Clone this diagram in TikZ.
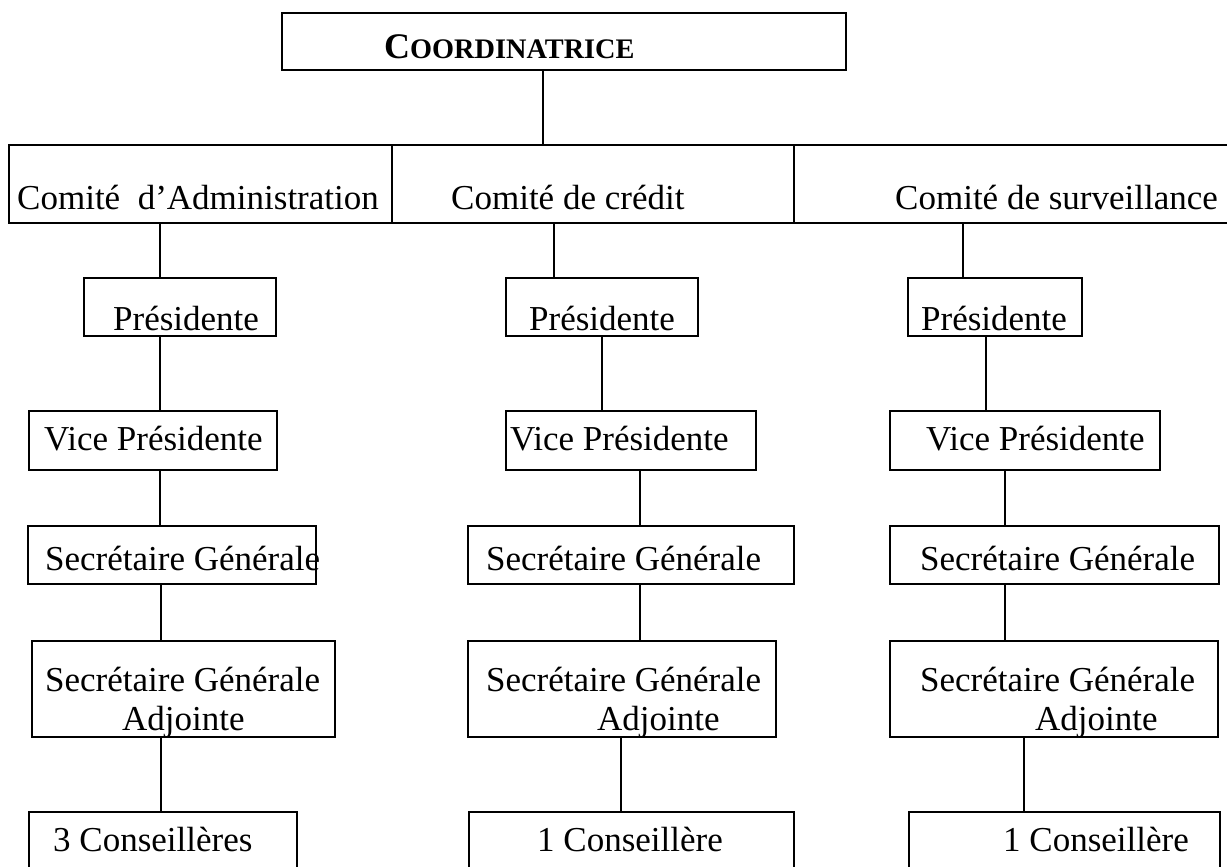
\documentclass[tikz,border=0pt]{standalone}
\usepackage{fontspec}
\setmainfont{Liberation Serif}
\begin{document}
\begin{tikzpicture}[x=1bp,y=-1bp,
  box/.style={draw, line width=1.7bp, rectangle, inner sep=0pt, anchor=north west},
  lbl/.style={inner sep=0pt, anchor=base west, font=\fontsize{35bp}{39bp}\selectfont},
  link/.style={draw, line width=1.5bp}]
\useasboundingbox[fill=white] (0,0) rectangle (1227,867);

% --- boxes: corner at (left, top), sized in pixels
\newcommand{\orgbox}[5]{\node[box, minimum width=#4bp, minimum height=#5bp] (#1) at (#2,#3) {};}
\orgbox{top}{281}{12}{564}{57}
\orgbox{adm}{8}{144}{383}{78}
\orgbox{cred}{391}{144}{402}{78}
\orgbox{surv}{793}{144}{440}{78}

\orgbox{pA}{83}{277}{192}{58}
\orgbox{pB}{505}{277}{192}{58}
\orgbox{pC}{907}{277}{174}{58}

\orgbox{vA}{28}{410}{248}{59}
\orgbox{vB}{505}{410}{250}{59}
\orgbox{vC}{889}{410}{270}{59}

\orgbox{sA}{27}{525}{288}{58}
\orgbox{sB}{467}{525}{326}{58}
\orgbox{sC}{889}{525}{329}{58}

\orgbox{aA}{31}{640}{303}{96}
\orgbox{aB}{467}{640}{308}{96}
\orgbox{aC}{889}{640}{328}{96}

\orgbox{cA}{28}{811}{268}{56}
\orgbox{cB}{468}{811}{325}{56}
\orgbox{cC}{908}{811}{311}{56}

% --- texts
\node[lbl] (tTop) at (384,58) {\bfseries{\fontsize{36bp}{40bp}\selectfont C}{\fontsize{28.3bp}{32bp}\selectfont OORDINATRICE}};
\node[lbl] (tAdm) at (17,209) {Comité~~d’Administration};
\node[lbl] (tCred) at (451,209) {Comité de crédit};
\node[lbl] (tSurv) at (895,209) {Comité de surveillance};

\node[lbl] (tpA) at (113,330) {Présidente};
\node[lbl] (tpB) at (529,330) {Présidente};
\node[lbl] (tpC) at (921,330) {Présidente};

\node[lbl] (tvA) at (44,450) {Vice Présidente};
\node[lbl] (tvB) at (510,450) {Vice Présidente};
\node[lbl] (tvC) at (926,450) {Vice Présidente};

\node[lbl] (tsA) at (45,570) {Secrétaire Générale};
\node[lbl] (tsB) at (486,570) {Secrétaire Générale};
\node[lbl] (tsC) at (920,570) {Secrétaire Générale};

\node[lbl] (taA) at (45,691) {Secrétaire Générale};
\node[lbl] (taA2) at (122,730) {Adjointe};
\node[lbl] (taB) at (486,691) {Secrétaire Générale};
\node[lbl] (taB2) at (597,730) {Adjointe};
\node[lbl] (taC) at (920,691) {Secrétaire Générale};
\node[lbl] (taC2) at (1035,730) {Adjointe};

\node[lbl] (tcA) at (53,851) {3 Conseillères};
\node[lbl] (tcB) at (537,851) {1 Conseillère};
\node[lbl] (tcC) at (1003,851) {1 Conseillère};

% --- x positions of the vertical connectors
\coordinate (xTop) at (543,0);
\coordinate (xA1) at (160,0);
\coordinate (xA2) at (161,0);
\coordinate (xB1) at (554,0);
\coordinate (xB2) at (602,0);
\coordinate (xB3) at (640,0);
\coordinate (xB4) at (621,0);
\coordinate (xC1) at (963,0);
\coordinate (xC2) at (986,0);
\coordinate (xC3) at (1005,0);
\coordinate (xC4) at (1024,0);

% --- connectors
\draw[link] (top.south -| xTop) -- (cred.north -| xTop);

\draw[link] (adm.south -| xA1) -- (pA.north -| xA1);
\draw[link] (pA.south -| xA1) -- (vA.north -| xA1);
\draw[link] (vA.south -| xA1) -- (sA.north -| xA1);
\draw[link] (sA.south -| xA2) -- (aA.north -| xA2);
\draw[link] (aA.south -| xA2) -- (cA.north -| xA2);

\draw[link] (cred.south -| xB1) -- (pB.north -| xB1);
\draw[link] (pB.south -| xB2) -- (vB.north -| xB2);
\draw[link] (vB.south -| xB3) -- (sB.north -| xB3);
\draw[link] (sB.south -| xB3) -- (aB.north -| xB3);
\draw[link] (aB.south -| xB4) -- (cB.north -| xB4);

\draw[link] (surv.south -| xC1) -- (pC.north -| xC1);
\draw[link] (pC.south -| xC2) -- (vC.north -| xC2);
\draw[link] (vC.south -| xC3) -- (sC.north -| xC3);
\draw[link] (sC.south -| xC3) -- (aC.north -| xC3);
\draw[link] (aC.south -| xC4) -- (cC.north -| xC4);
\end{tikzpicture}
\end{document}
